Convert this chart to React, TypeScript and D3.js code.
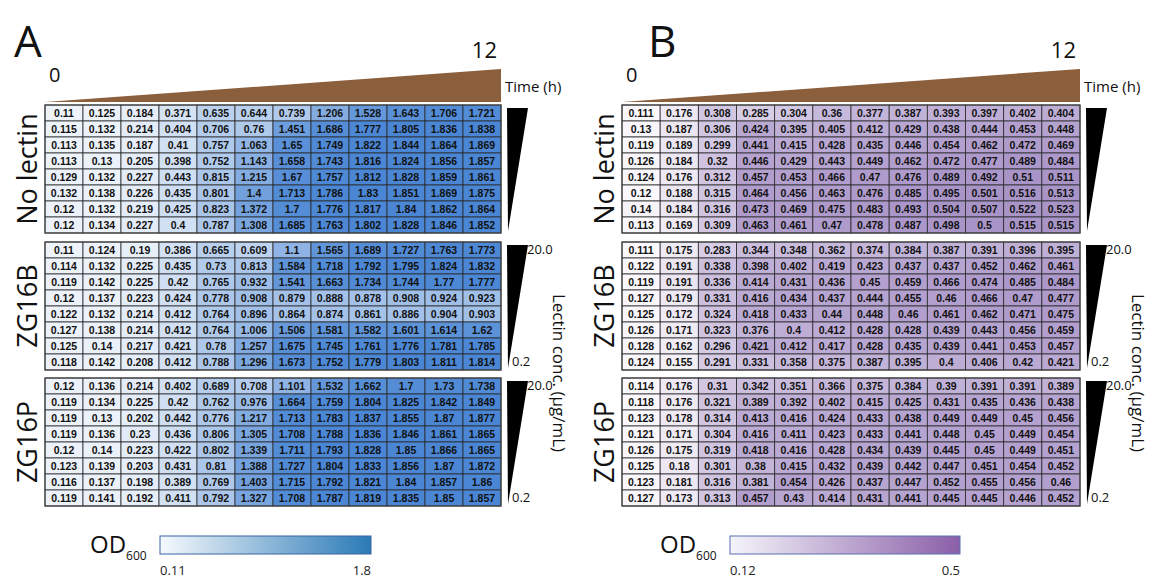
import * as d3 from 'd3'

// time points (h) as columns, lectin concentration rows (high -> low)
const TIMES = d3.range(12)
const ROWS = d3.range(8)
const GROUPS = ['No lectin', 'ZG16B', 'ZG16P']

// Panel A OD600
const noLectinA = [
  [0.11, 0.125, 0.184, 0.371, 0.635, 0.644, 0.739, 1.206, 1.528, 1.643, 1.706, 1.721],
  [0.115, 0.132, 0.214, 0.404, 0.706, 0.76, 1.451, 1.686, 1.777, 1.805, 1.836, 1.838],
  [0.113, 0.135, 0.187, 0.41, 0.757, 1.063, 1.65, 1.749, 1.822, 1.844, 1.864, 1.869],
  [0.113, 0.13, 0.205, 0.398, 0.752, 1.143, 1.658, 1.743, 1.816, 1.824, 1.856, 1.857],
  [0.129, 0.132, 0.227, 0.443, 0.815, 1.215, 1.67, 1.757, 1.812, 1.828, 1.859, 1.861],
  [0.132, 0.138, 0.226, 0.435, 0.801, 1.4, 1.713, 1.786, 1.83, 1.851, 1.869, 1.875],
  [0.12, 0.132, 0.219, 0.425, 0.823, 1.372, 1.7, 1.776, 1.817, 1.84, 1.862, 1.864],
  [0.12, 0.134, 0.227, 0.4, 0.787, 1.308, 1.685, 1.763, 1.802, 1.828, 1.846, 1.852],
]
const zg16bA = [
  [0.11, 0.124, 0.19, 0.386, 0.665, 0.609, 1.1, 1.565, 1.689, 1.727, 1.763, 1.773],
  [0.114, 0.132, 0.225, 0.435, 0.73, 0.813, 1.584, 1.718, 1.792, 1.795, 1.824, 1.832],
  [0.119, 0.142, 0.225, 0.42, 0.765, 0.932, 1.541, 1.663, 1.734, 1.744, 1.77, 1.777],
  [0.12, 0.137, 0.223, 0.424, 0.778, 0.908, 0.879, 0.888, 0.878, 0.908, 0.924, 0.923],
  [0.122, 0.132, 0.214, 0.412, 0.764, 0.896, 0.864, 0.874, 0.861, 0.886, 0.904, 0.903],
  [0.127, 0.138, 0.214, 0.412, 0.764, 1.006, 1.506, 1.581, 1.582, 1.601, 1.614, 1.62],
  [0.125, 0.14, 0.217, 0.421, 0.78, 1.257, 1.675, 1.745, 1.761, 1.776, 1.781, 1.785],
  [0.118, 0.142, 0.208, 0.412, 0.788, 1.296, 1.673, 1.752, 1.779, 1.803, 1.811, 1.814],
]
const zg16pA = [
  [0.12, 0.136, 0.214, 0.402, 0.689, 0.708, 1.101, 1.532, 1.662, 1.7, 1.73, 1.738],
  [0.119, 0.134, 0.225, 0.42, 0.762, 0.976, 1.664, 1.759, 1.804, 1.825, 1.842, 1.849],
  [0.119, 0.13, 0.202, 0.442, 0.776, 1.217, 1.713, 1.783, 1.837, 1.855, 1.87, 1.877],
  [0.119, 0.136, 0.23, 0.436, 0.806, 1.305, 1.708, 1.788, 1.836, 1.846, 1.861, 1.865],
  [0.12, 0.14, 0.223, 0.422, 0.802, 1.339, 1.711, 1.793, 1.828, 1.85, 1.866, 1.865],
  [0.123, 0.139, 0.203, 0.431, 0.81, 1.388, 1.727, 1.804, 1.833, 1.856, 1.87, 1.872],
  [0.116, 0.137, 0.198, 0.389, 0.769, 1.403, 1.715, 1.792, 1.821, 1.84, 1.857, 1.86],
  [0.119, 0.141, 0.192, 0.411, 0.792, 1.327, 1.708, 1.787, 1.819, 1.835, 1.85, 1.857],
]

// Panel B OD600
const noLectinB = [
  [0.111, 0.176, 0.308, 0.285, 0.304, 0.36, 0.377, 0.387, 0.393, 0.397, 0.402, 0.404],
  [0.13, 0.187, 0.306, 0.424, 0.395, 0.405, 0.412, 0.429, 0.438, 0.444, 0.453, 0.448],
  [0.119, 0.189, 0.299, 0.441, 0.415, 0.428, 0.435, 0.446, 0.454, 0.462, 0.472, 0.469],
  [0.126, 0.184, 0.32, 0.446, 0.429, 0.443, 0.449, 0.462, 0.472, 0.477, 0.489, 0.484],
  [0.124, 0.176, 0.312, 0.457, 0.453, 0.466, 0.47, 0.476, 0.489, 0.492, 0.51, 0.511],
  [0.12, 0.188, 0.315, 0.464, 0.456, 0.463, 0.476, 0.485, 0.495, 0.501, 0.516, 0.513],
  [0.14, 0.184, 0.316, 0.473, 0.469, 0.475, 0.483, 0.493, 0.504, 0.507, 0.522, 0.523],
  [0.113, 0.169, 0.309, 0.463, 0.461, 0.47, 0.478, 0.487, 0.498, 0.5, 0.515, 0.515],
]
const zg16bB = [
  [0.111, 0.175, 0.283, 0.344, 0.348, 0.362, 0.374, 0.384, 0.387, 0.391, 0.396, 0.395],
  [0.122, 0.191, 0.338, 0.398, 0.402, 0.419, 0.423, 0.437, 0.437, 0.452, 0.462, 0.461],
  [0.119, 0.191, 0.336, 0.414, 0.431, 0.436, 0.45, 0.459, 0.466, 0.474, 0.485, 0.484],
  [0.127, 0.179, 0.331, 0.416, 0.434, 0.437, 0.444, 0.455, 0.46, 0.466, 0.47, 0.477],
  [0.125, 0.172, 0.324, 0.418, 0.433, 0.44, 0.448, 0.46, 0.461, 0.462, 0.471, 0.475],
  [0.126, 0.171, 0.323, 0.376, 0.4, 0.412, 0.428, 0.428, 0.439, 0.443, 0.456, 0.459],
  [0.128, 0.162, 0.296, 0.421, 0.412, 0.417, 0.428, 0.435, 0.439, 0.441, 0.453, 0.457],
  [0.124, 0.155, 0.291, 0.331, 0.358, 0.375, 0.387, 0.395, 0.4, 0.406, 0.42, 0.421],
]
const zg16pB = [
  [0.114, 0.176, 0.31, 0.342, 0.351, 0.366, 0.375, 0.384, 0.39, 0.391, 0.391, 0.389],
  [0.118, 0.176, 0.321, 0.389, 0.392, 0.402, 0.415, 0.425, 0.431, 0.435, 0.436, 0.438],
  [0.123, 0.178, 0.314, 0.413, 0.416, 0.424, 0.433, 0.438, 0.449, 0.449, 0.45, 0.456],
  [0.121, 0.171, 0.304, 0.416, 0.411, 0.423, 0.433, 0.441, 0.448, 0.45, 0.449, 0.454],
  [0.126, 0.175, 0.319, 0.418, 0.416, 0.428, 0.434, 0.439, 0.445, 0.45, 0.449, 0.451],
  [0.125, 0.18, 0.301, 0.38, 0.415, 0.432, 0.439, 0.442, 0.447, 0.451, 0.454, 0.452],
  [0.123, 0.181, 0.316, 0.381, 0.454, 0.426, 0.437, 0.447, 0.452, 0.455, 0.456, 0.46],
  [0.127, 0.173, 0.313, 0.457, 0.43, 0.414, 0.431, 0.441, 0.445, 0.445, 0.446, 0.452],
]

const colorDomainA = [0.11, 1.8]
const colorDomainB = [0.12, 0.5]

const W = 1156
const H = 577
const FONT = '"Liberation Sans", Arial, sans-serif'
const LABEL_FONT = '"Open Sans", "Liberation Sans", sans-serif'
const BLOCK_TOPS = [97, 234, 370]
const ROW_H = 16

function Panel({ letter, x0, x1, blocks, domain, cellLo, cellHi, legend, letterX, rowLabelX }) {
  const x = d3.scaleBand().domain(TIMES).range([x0, x1])
  const color = d3.scaleLinear().domain(domain).range([cellLo, cellHi]).clamp(true)
  const triX = x1 + 6
  const gradId = `grad-${letter}`

  return (
    <g>
      <text x={letterX} y={49} fontFamily={LABEL_FONT} fontSize={44} fill="#111">{letter}</text>
      {/* time wedge */}
      <polygon points={`${x0},${94} ${x1},${94} ${x1},${61}`} fill="#8b5e3c" />
      <text x={x0 + 4} y={74} fontFamily={LABEL_FONT} fontSize={20} fill="#111">0</text>
      <text x={x1 - 4} y={50} textAnchor="end" fontFamily={LABEL_FONT} fontSize={22} fill="#111">12</text>
      <text x={x1 + 4} y={84} fontFamily={LABEL_FONT} fontSize={15} fill="#111">Time (h)</text>

      {blocks.map((data, b) => {
        const top = BLOCK_TOPS[b]
        const bottom = top + ROW_H * ROWS.length
        const y = d3.scaleBand().domain(ROWS).range([top, bottom])
        return (
          <g key={b}>
            <text
              transform={`translate(${rowLabelX},${(top + bottom) / 2}) rotate(-90)`}
              textAnchor="middle"
              fontFamily={LABEL_FONT}
              fontSize={27}
              fill="#111"
            >
              {GROUPS[b]}
            </text>
            {data.map((row, r) =>
              row.map((v, c) => (
                <g key={`${r}-${c}`}>
                  <rect
                    x={x(c)}
                    y={y(r)}
                    width={x.bandwidth()}
                    height={y.bandwidth()}
                    fill={color(v)}
                    stroke="#2a2a2a"
                    strokeWidth={0.8}
                  />
                  <text
                    x={x(c) + x.bandwidth() / 2}
                    y={y(r) + y.bandwidth() / 2}
                    dy="0.36em"
                    textAnchor="middle"
                    fontFamily={FONT}
                    fontWeight="bold"
                    fontSize={10.5}
                    fill="#111"
                  >
                    {String(v)}
                  </text>
                </g>
              ))
            )}
            <rect x={x0} y={top} width={x1 - x0} height={bottom - top} fill="none" stroke="#444" strokeWidth={1.2} />
            {/* lectin concentration wedge */}
            <polygon
              points={`${triX},${top + 3} ${triX + 21},${top + 3} ${triX + 1},${bottom - 2}`}
              fill="#000"
            />
            {b > 0 && (
              <>
                <text x={triX + 20} y={top + 12} fontFamily={LABEL_FONT} fontSize={13} fill="#111">20.0</text>
                <text x={triX + 5} y={bottom - 4} fontFamily={LABEL_FONT} fontSize={13} fill="#111">0.2</text>
              </>
            )}
          </g>
        )
      })}

      <text
        transform={`translate(${x1 + 52},${365}) rotate(90)`}
        textAnchor="middle"
        fontFamily={LABEL_FONT}
        fontSize={17}
        fill="#111"
      >
        Lectin conc. (μg/mL)
      </text>

      {/* colour legend */}
      <defs>
        <linearGradient id={gradId} x1="0" x2="1" y1="0" y2="0">
          <stop offset="0%" stopColor={legend.lo} />
          <stop offset="100%" stopColor={legend.hi} />
        </linearGradient>
      </defs>
      <text x={legend.x - 70} y={545} fontFamily={LABEL_FONT} fontSize={24} fill="#111">
        OD<tspan fontSize={12} dy={7}>600</tspan>
      </text>
      <rect x={legend.x} y={528} width={legend.w} height={18} fill={`url(#${gradId})`} stroke={legend.stroke} strokeWidth={1} />
      <text x={legend.x} y={567} fontFamily={LABEL_FONT} fontSize={13} fill="#222">{legend.loLabel}</text>
      <text x={legend.x + legend.w} y={567} textAnchor="end" fontFamily={LABEL_FONT} fontSize={13} fill="#222">{legend.hiLabel}</text>
    </g>
  )
}

export default function App() {
  return (
    <svg width={W} height={H} style={{ display: 'block', background: '#fff' }}>
      <Panel
        letter="A"
        letterX={6}
        rowLabelX={29}
        x0={37}
        x1={493}
        blocks={[noLectinA, zg16bA, zg16pA]}
        domain={colorDomainA}
        cellLo="#eef3fa"
        cellHi="#4a86d4"
        legend={{ x: 152, w: 211, lo: '#f6f9fd', hi: '#2a7ab6', stroke: '#3a64a0', loLabel: String(colorDomainA[0]), hiLabel: String(colorDomainA[1]) }}
      />
      <Panel
        letter="B"
        letterX={640}
        rowLabelX={606}
        x0={614}
        x1={1072}
        blocks={[noLectinB, zg16bB, zg16pB]}
        domain={colorDomainB}
        cellLo="#faf8fc"
        cellHi="#a994c8"
        legend={{ x: 722, w: 230, lo: '#f4f4fa', hi: '#8a5fa8', stroke: '#5a6fb0', loLabel: String(colorDomainB[0]), hiLabel: String(colorDomainB[1]) }}
      />
    </svg>
  )
}
